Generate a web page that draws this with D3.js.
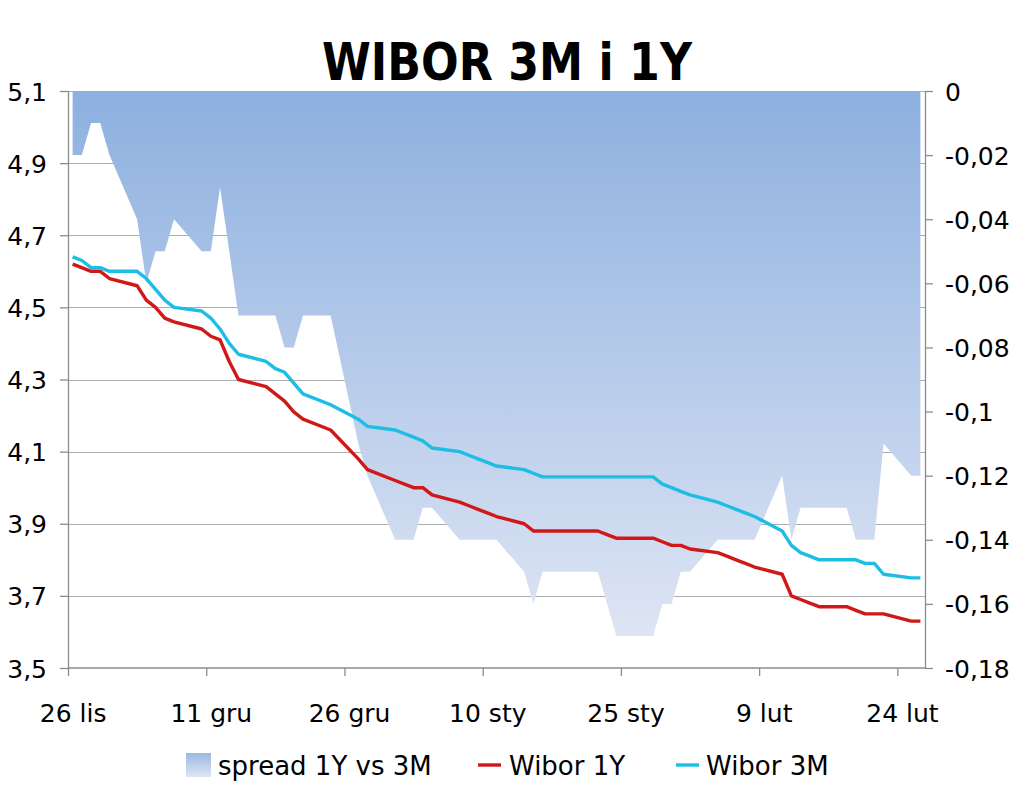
<!DOCTYPE html>
<html>
<head>
<meta charset="utf-8">
<script src="https://cdn.jsdelivr.net/npm/d3@7"></script>
<style>
  html, body { margin: 0; padding: 0; background: #fff; }
  svg { display: block; }
  text { font-family: "DejaVu Sans", Verdana, sans-serif; fill: #000; }
</style>
</head>
<body>
<svg id="chart" width="1024" height="791"></svg>
<script>
// ---------- DATA ----------
const dates = [
  "2012-11-26","2012-11-27","2012-11-28","2012-11-29","2012-11-30",
  "2012-12-03","2012-12-04","2012-12-05","2012-12-06","2012-12-07",
  "2012-12-10","2012-12-11","2012-12-12","2012-12-13","2012-12-14",
  "2012-12-17","2012-12-18","2012-12-19","2012-12-20","2012-12-21",
  "2012-12-24","2012-12-27","2012-12-28","2012-12-31",
  "2013-01-02","2013-01-03","2013-01-04",
  "2013-01-07","2013-01-08","2013-01-09","2013-01-10","2013-01-11",
  "2013-01-14","2013-01-15","2013-01-16","2013-01-17","2013-01-18",
  "2013-01-21","2013-01-22","2013-01-23","2013-01-24","2013-01-25",
  "2013-01-28","2013-01-29","2013-01-30","2013-01-31","2013-02-01",
  "2013-02-04","2013-02-05","2013-02-06","2013-02-07","2013-02-08",
  "2013-02-11","2013-02-12","2013-02-13","2013-02-14","2013-02-15",
  "2013-02-18","2013-02-19","2013-02-20","2013-02-21","2013-02-22",
  "2013-02-25","2013-02-26"
];
const wibor3M = [
  4.64,4.63,4.61,4.61,4.60,
  4.60,4.58,4.55,4.52,4.50,
  4.49,4.47,4.44,4.40,4.37,
  4.35,4.33,4.32,4.29,4.26,
  4.23,4.19,4.17,4.16,
  4.14,4.13,4.11,
  4.10,4.09,4.08,4.07,4.06,
  4.05,4.04,4.03,4.03,4.03,
  4.03,4.03,4.03,4.03,4.03,
  4.03,4.01,4.00,3.99,3.98,
  3.96,3.95,3.94,3.93,3.92,
  3.88,3.84,3.82,3.81,3.80,
  3.80,3.80,3.79,3.79,3.76,
  3.75,3.75
];
const wibor1Y = [
  4.62,4.61,4.60,4.60,4.58,
  4.56,4.52,4.50,4.47,4.46,
  4.44,4.42,4.41,4.35,4.30,
  4.28,4.26,4.24,4.21,4.19,
  4.16,4.08,4.05,4.02,
  4.00,4.00,3.98,
  3.96,3.95,3.94,3.93,3.92,
  3.90,3.88,3.88,3.88,3.88,
  3.88,3.88,3.87,3.86,3.86,
  3.86,3.85,3.84,3.84,3.83,
  3.82,3.81,3.80,3.79,3.78,
  3.76,3.70,3.69,3.68,3.67,
  3.67,3.66,3.65,3.65,3.65,
  3.63,3.63
];
const spread = [
  -0.02,-0.02,-0.01,-0.01,-0.02,
  -0.04,-0.06,-0.05,-0.05,-0.04,
  -0.05,-0.05,-0.03,-0.05,-0.07,
  -0.07,-0.07,-0.08,-0.08,-0.07,
  -0.07,-0.11,-0.12,-0.14,
  -0.14,-0.13,-0.13,
  -0.14,-0.14,-0.14,-0.14,-0.14,
  -0.15,-0.16,-0.15,-0.15,-0.15,
  -0.15,-0.15,-0.16,-0.17,-0.17,
  -0.17,-0.16,-0.16,-0.15,-0.15,
  -0.14,-0.14,-0.14,-0.14,-0.14,
  -0.12,-0.14,-0.13,-0.13,-0.13,
  -0.13,-0.14,-0.14,-0.14,-0.11,
  -0.12,-0.12
];
const tickDates = ["2012-11-26","2012-12-11","2012-12-26","2013-01-10","2013-01-25","2013-02-09","2013-02-24"];
const tickLabels = ["26 lis","11 gru","26 gru","10 sty","25 sty","9 lut","24 lut"];
const leftTicks = [3.5,3.7,3.9,4.1,4.3,4.5,4.7,4.9,5.1];
const rightTicks = [0,-0.02,-0.04,-0.06,-0.08,-0.1,-0.12,-0.14,-0.16,-0.18];
const seriesNames = ["spread 1Y vs 3M","Wibor 1Y","Wibor 3M"];
const titleText = "WIBOR 3M i 1Y";

// ---------- SETUP ----------
const svg = d3.select("#chart");
const plot = {left: 68, right: 925, top: 91, bottom: 668};
const DAY = 864e5;
const parse = d3.utcParse("%Y-%m-%d");
const data = dates.map((d, i) => ({
  date: new Date(parse(d).getTime() + DAY / 2),
  y3m: wibor3M[i], y1y: wibor1Y[i], sp: spread[i]
}));

const x = d3.scaleUtc()
  .domain([parse("2012-11-26"), parse("2013-02-27")])
  .range([plot.left, plot.right]);
const yL = d3.scaleLinear().domain([3.5, 5.1]).range([plot.bottom, plot.top]);
const yR = d3.scaleLinear().domain([-0.18, 0]).range([plot.bottom, plot.top]);

const defs = svg.append("defs");
const g1 = defs.append("linearGradient").attr("id", "areaGrad")
  .attr("gradientUnits", "userSpaceOnUse")
  .attr("x1", 0).attr("x2", 0).attr("y1", yR(0)).attr("y2", yR(-0.17));
g1.append("stop").attr("offset", "0%").attr("stop-color", "#8DB0DF");
g1.append("stop").attr("offset", "100%").attr("stop-color", "#DEE5F4");
const g2 = defs.append("linearGradient").attr("id", "legGrad")
  .attr("x1", 0).attr("x2", 0).attr("y1", 0).attr("y2", 1);
g2.append("stop").attr("offset", "0%").attr("stop-color", "#9AB8E2");
g2.append("stop").attr("offset", "100%").attr("stop-color", "#DEE5F4");

// Title
svg.append("text")
  .attr("x", 507).attr("y", 80)
  .attr("text-anchor", "middle")
  .attr("font-weight", "bold")
  .attr("font-size", 51)
  .attr("textLength", 370)
  .attr("lengthAdjust", "spacingAndGlyphs")
  .text(titleText);

// Gridlines
svg.append("g").selectAll("line")
  .data(leftTicks.filter(v => v > 3.5))
  .join("line")
  .attr("x1", plot.left).attr("x2", plot.right)
  .attr("y1", d => Math.round(yL(d)) + 0.5).attr("y2", d => Math.round(yL(d)) + 0.5)
  .attr("stroke", "#ADADAD").attr("stroke-width", 1);

// Area (spread, right axis)
svg.append("path")
  .datum(data)
  .attr("d", d3.area().x(d => x(d.date)).y0(yR(0)).y1(d => yR(d.sp)))
  .attr("fill", "url(#areaGrad)");

// Lines
const lineGen = key => d3.line().x(d => x(d.date)).y(d => yL(d[key]));
svg.append("path").datum(data)
  .attr("d", lineGen("y1y"))
  .attr("fill", "none").attr("stroke", "#D01818").attr("stroke-width", 3.4)
  .attr("stroke-linejoin", "round");
svg.append("path").datum(data)
  .attr("d", lineGen("y3m"))
  .attr("fill", "none").attr("stroke", "#1DBDE6").attr("stroke-width", 3.4)
  .attr("stroke-linejoin", "round");

// Axes
const axisColor = "#8C8C8C";
function styleAxis(g) {
  g.selectAll(".domain").attr("stroke", axisColor).attr("stroke-width", 1.3);
  g.selectAll(".tick line").attr("stroke", axisColor).attr("stroke-width", 1.3);
  g.selectAll(".tick text").attr("font-family", "DejaVu Sans, Verdana, sans-serif").attr("fill", "#000");
}

const axL = svg.append("g")
  .attr("transform", `translate(${plot.left},0)`)
  .call(d3.axisLeft(yL).tickValues(leftTicks).tickSize(8).tickSizeOuter(0)
    .tickPadding(13).tickFormat(d => d.toFixed(1).replace(".", ",")));
styleAxis(axL);
axL.selectAll(".tick text").attr("font-size", 25).attr("dy", "0.36em");

const axR = svg.append("g")
  .attr("transform", `translate(${plot.right},0)`)
  .call(d3.axisRight(yR).tickValues(rightTicks).tickSize(8).tickSizeOuter(0)
    .tickPadding(12).tickFormat(d => String(+d.toFixed(2)).replace(".", ",")));
styleAxis(axR);
axR.selectAll(".tick text").attr("font-size", 25).attr("dy", "0.36em");

const halfDay = x(parse("2012-11-26").getTime() + DAY / 2) - x(parse("2012-11-26"));
const axB = svg.append("g")
  .attr("transform", `translate(0,${plot.bottom})`)
  .call(d3.axisBottom(x).tickValues(tickDates.map(parse)).tickSize(8).tickSizeOuter(0)
    .tickPadding(28).tickFormat((d, i) => tickLabels[i]));
styleAxis(axB);
axB.selectAll(".tick text").attr("font-size", 25).attr("x", halfDay);
axB.select(".domain").attr("d", `M${plot.left},0H${plot.right}`);

// Legend
const leg = svg.append("g");
leg.append("rect").attr("x", 186).attr("y", 753).attr("width", 25).attr("height", 24)
  .attr("fill", "url(#legGrad)");
leg.append("text").attr("x", 218).attr("y", 775).attr("font-size", 26).text(seriesNames[0]);
leg.append("line").attr("x1", 478).attr("x2", 501).attr("y1", 765).attr("y2", 765)
  .attr("stroke", "#D01818").attr("stroke-width", 3.4);
leg.append("text").attr("x", 509).attr("y", 775).attr("font-size", 26).text(seriesNames[1]);
leg.append("line").attr("x1", 676).attr("x2", 699).attr("y1", 765).attr("y2", 765)
  .attr("stroke", "#1DBDE6").attr("stroke-width", 3.4);
leg.append("text").attr("x", 706).attr("y", 775).attr("font-size", 26).text(seriesNames[2]);
</script>
</body>
</html>
